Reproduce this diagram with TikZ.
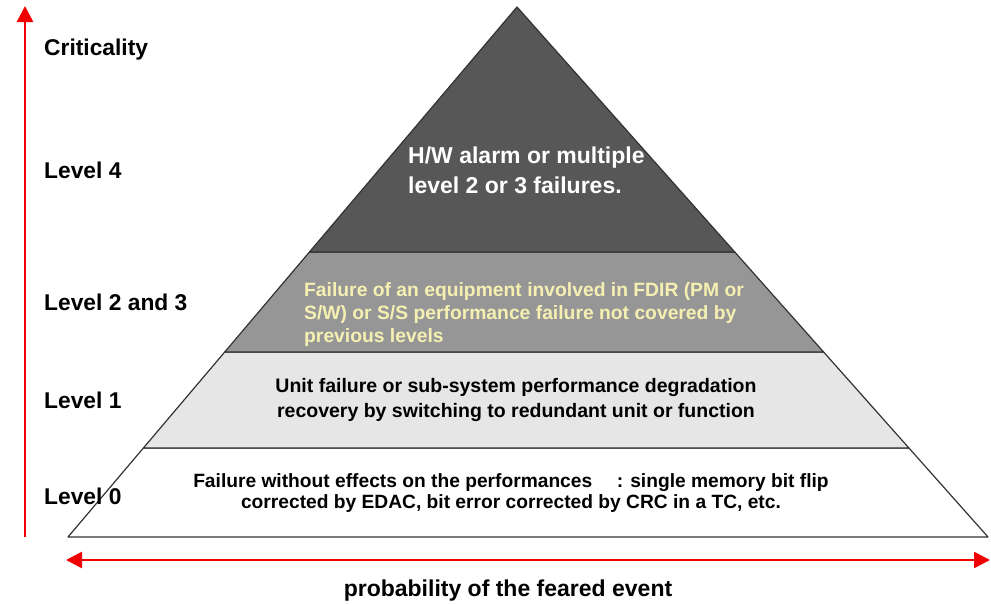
\documentclass[tikz,border=0pt]{standalone}
\usepackage{fontspec}
\setmainfont{Liberation Sans}
\usetikzlibrary{calc,positioning,arrows.meta}

\definecolor{topgray}{RGB}{87,87,87}
\definecolor{midgray}{RGB}{150,150,150}
\definecolor{lowgray}{RGB}{230,230,230}
\definecolor{paleyellow}{RGB}{245,240,178}
\definecolor{axisred}{RGB}{240,0,0}

\tikzset{
  band/.style={draw=black!80, line width=1.2pt, line join=round},
  level/.style={anchor=west, inner sep=0, font=\bfseries\fontsize{22.8}{24}\selectfont},
  axis/.style={draw=axisred, line width=2.6pt, -{Triangle[length=16pt,width=16pt]}},
}

\begin{document}
\begin{tikzpicture}[x=1pt,y=-1pt]
    \useasboundingbox (0,0) rectangle (991,605);

    % pyramid corners
    \coordinate (apex) at (517,7);
    \coordinate (bl) at (68,537);
    \coordinate (br) at (988,537);
    % band limits along both edges
    \coordinate (l1) at ($(apex)!0.4623!(bl)$);
    \coordinate (r1) at ($(apex)!0.4623!(br)$);
    \coordinate (l2) at ($(apex)!0.6509!(bl)$);
    \coordinate (r2) at ($(apex)!0.6509!(br)$);
    \coordinate (l3) at ($(apex)!0.8321!(bl)$);
    \coordinate (r3) at ($(apex)!0.8321!(br)$);

    \filldraw[band, fill=white] (l3) -- (r3) -- (br) -- (bl) -- cycle;
    \filldraw[band, fill=lowgray] (l2) -- (r2) -- (r3) -- (l3) -- cycle;
    \filldraw[band, fill=midgray] (l1) -- (r1) -- (r2) -- (l2) -- cycle;
    \filldraw[band, fill=topgray] (apex) -- (r1) -- (l1) -- cycle;

    % texts inside the bands
    \node[anchor=west, align=left, text=white, inner sep=0,
          font=\bfseries\fontsize{23}{30}\selectfont] (hw) at (408,170)
      {H/W alarm or multiple\\level 2 or 3 failures.};
    \node[anchor=west, align=left, text=paleyellow, inner sep=0,
          font=\bfseries\fontsize{19.3}{23}\selectfont] (fdir) at (304,315)
      {Failure of an equipment involved in FDIR (PM or\\S/W) or S/S performance failure not covered by\\previous levels};
    \node[align=center, inner sep=0,
          font=\bfseries\fontsize{19.5}{25}\selectfont] (unit) at (516,400)
      {Unit failure or sub-system performance degradation\\recovery by switching to redundant unit or function};
    \node[align=center, inner sep=0,
          font=\bfseries\fontsize{19.2}{20.5}\selectfont] (nofx) at (511,493)
      {Failure without effects on the performances \quad: single memory bit flip\\corrected by EDAC, bit error corrected by CRC in a TC, etc.};

    % criticality scale
    \node[level] (crit) at (44,50) {Criticality};
    \node[level] (lv4) at (44,170) {Level 4};
    \node[level] (lv23) at (44,302) {Level 2 and 3};
    \node[level] (lv1) at (44,400) {Level 1};
    \node[level] (lv0) at (44,496) {Level 0};

    \coordinate (vlo) at (25,537);
    \coordinate (vhi) at (25,6);
    \draw[axis] (vlo) -- (vhi);

    % probability scale
    \coordinate (hl) at (66,560);
    \coordinate (hr) at (990,560);
    \draw[axis, {Triangle[length=16pt,width=16pt]}-{Triangle[length=16pt,width=16pt]}] (hl) -- (hr);
    \node[inner sep=0, font=\bfseries\fontsize{23}{24}\selectfont] (prob) at (508,591)
      {probability of the feared event};
\end{tikzpicture}
\end{document}
